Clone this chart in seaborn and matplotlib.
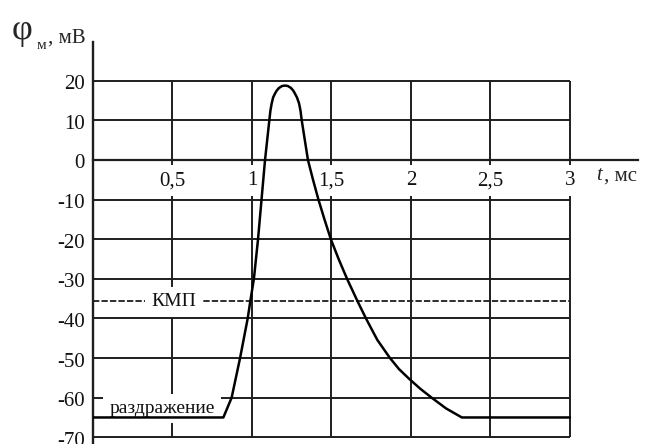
import numpy as np
import pandas as pd
import matplotlib
matplotlib.use("Agg")
import matplotlib.pyplot as plt
import seaborn as sns

# action potential curve (t in ms, phi in mV)
t_ms = [0.0, 0.82, 0.872, 0.925, 0.973, 0.99, 1.012, 1.038, 1.06, 1.082, 1.109,
        1.116, 1.124, 1.133, 1.145, 1.155, 1.17, 1.19, 1.208, 1.225, 1.245,
        1.26, 1.27, 1.283, 1.296, 1.305, 1.313,
        1.352, 1.384, 1.418, 1.456, 1.496, 1.545, 1.598, 1.662, 1.717, 1.788,
        1.868, 1.925, 1.99, 2.06, 2.13, 2.22, 2.32, 3.0]
phi_mv = [-65, -65, -60, -50, -40, -35.5, -30, -20, -10, 0, 10,
          12.5, 14.3, 15.8, 16.8, 17.5, 18.2, 18.7, 18.8, 18.7, 18.2,
          17.5, 16.8, 15.8, 14.3, 12.5, 10,
          0, -5, -10, -15, -20, -25, -30, -35.5, -40, -45.4,
          -50, -52.8, -55.3, -57.8, -60, -62.7, -65, -65]

x_ticks = [0.5, 1, 1.5, 2, 2.5, 3]
x_tick_labels = ["0,5", "1", "1,5", "2", "2,5", "3"]
y_ticks = [20, 10, 0, -10, -20, -30, -40, -50, -60, -70]
y_tick_labels = ["20", "10", "0", "-10", "-20", "-30", "-40", "-50", "-60", "-70"]
kmp_level = -35.5

sns.set_style("white")
plt.rcParams['font.family'] = ['Liberation Serif', 'DejaVu Serif']

fig = plt.figure(figsize=(6.47, 4.44), dpi=100)
ax = fig.add_axes([93 / 647, 0, (638 - 93) / 647, (444 - 42) / 444])
ax.set_xlim(0, 3.428)
ax.set_ylim(-71.7, 29.8)

line_col = '#1e1e1e'
# grid
ax.hlines([y for y in y_ticks if y != 0], 0, 3, color=line_col, lw=1.4, zorder=1)
ax.vlines(x_ticks, -70, 20, color=line_col, lw=1.4, zorder=1)
# threshold (KMP)
ax.hlines(kmp_level, 0, 3, color=line_col, lw=1.3, linestyles=(0, (3.5, 1.2)), zorder=1)

df = pd.DataFrame({'t': t_ms, 'phi': phi_mv})
sns.lineplot(data=df, x='t', y='phi', ax=ax, color='black', lw=1.8, sort=False,
             estimator=None, zorder=3)
ax.set_xlabel('')
ax.set_ylabel('')

# axes
for s in ['top', 'right']:
    ax.spines[s].set_visible(False)
ax.spines['bottom'].set_position(('data', 0))
ax.spines['bottom'].set_color(line_col)
ax.spines['bottom'].set_linewidth(1.6)
ax.spines['left'].set_color(line_col)
ax.spines['left'].set_linewidth(1.7)
ax.set_xticks([])
ax.set_yticks([])

# y labels, a bit below their grid lines like in the scan
for yv, lab in zip(y_ticks, y_tick_labels):
    ax.text(-0.015, yv - 1.0, lab, transform=ax.get_yaxis_transform(),
            ha='right', va='center', fontsize=15, color='#111111')

white = dict(facecolor='white', edgecolor='none', pad=4.0)
for xv, lab in zip(x_ticks, x_tick_labels):
    ax.text(xv, -5.2, lab, ha='center', va='center', fontsize=15, color='#111111',
            bbox=white, zorder=2)

ax.text(0.506, kmp_level - 0.3, "КМП", ha='center', va='center', fontsize=14,
        color='#111111', bbox=dict(facecolor='white', edgecolor='none', pad=4.5), zorder=2)
ax.text(0.435, -62.8, "раздражение", ha='center', va='center', fontsize=14,
        color='#111111', bbox=dict(facecolor='white', edgecolor='none', pad=4.5), zorder=2)

# axis titles
ax.text(3.165, -4.0, "t", style='italic', ha='left', va='center', fontsize=15)
ax.text(3.215, -4.0, ", мс", ha='left', va='center', fontsize=15)
fig.text(12 / 647, 1 - 39 / 444, "φ", fontsize=26, va='baseline')
fig.text(37 / 647, 1 - 49 / 444, "м", fontsize=11, va='baseline')
fig.text(48 / 647, 1 - 43 / 444, ", мВ", fontsize=15, va='baseline')

fig.savefig("out.png", dpi=100)
